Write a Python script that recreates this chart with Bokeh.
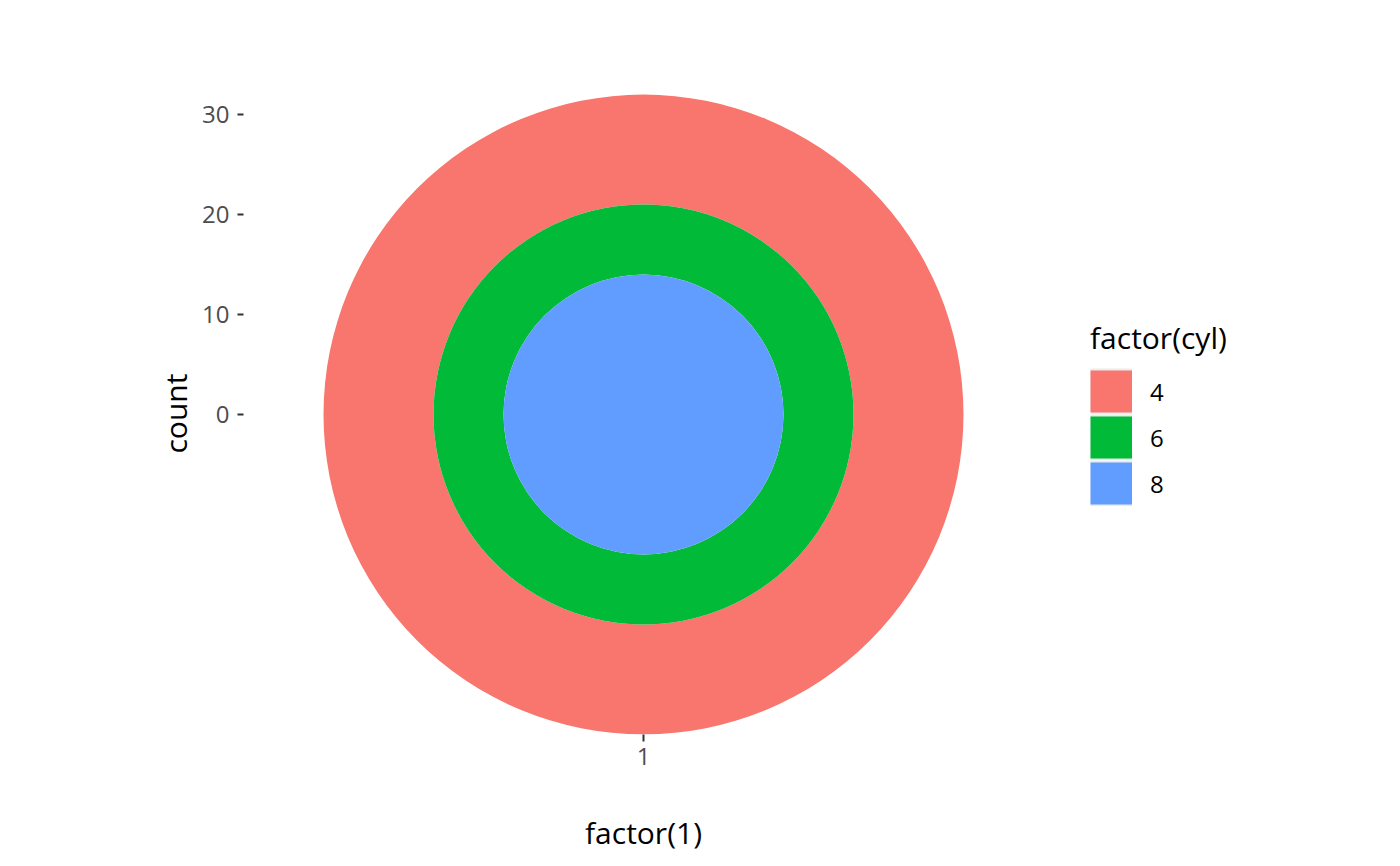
from bokeh.plotting import figure
from bokeh.models import ColumnDataSource, Range1d, FixedTicker, Legend, LegendItem, Title
from bokeh.embed import file_html
from bokeh.resources import INLINE

# data: mtcars counts by cylinder
cyl = ["4", "6", "8"]
counts = [11, 7, 14]
colors = ["#F8766D", "#00BA38", "#619CFF"]
y_ticks = [0, 10, 20, 30]
x_tick_labels = {0: "1"}

# stack (ggplot stacks last level at bottom -> innermost)
inner, outer = {}, {}
acc = 0
for c, n in reversed(list(zip(cyl, counts))):
    inner[c] = acc
    acc += n
    outer[c] = acc

FONT = "Open Sans"
p = figure(frame_width=800, frame_height=720, output_backend="svg", toolbar_location=None,
           x_range=Range1d(-40, 40), y_range=Range1d(-32, 40),
           min_border_left=243, min_border_right=0, min_border_top=14, min_border_bottom=120)
p.outline_line_color = None
p.grid.visible = False
p.background_fill_color = "white"

# legend key proxies (zero-length, drawn first and hidden under the rings):
# grey key background + coloured key
key_items = []
for c, col in zip(cyl, colors):
    bg = p.line(x="x", y="y", source=ColumnDataSource(dict(x=[0, 0], y=[0, 0])),
                line_color="#EBEBEB", line_width=46, line_cap="butt")
    fg = p.line(x="x", y="y", source=ColumnDataSource(dict(x=[0, 0], y=[0, 0])),
                line_color=col, line_width=42, line_cap="butt")
    key_items.append(LegendItem(label=c, renderers=[bg, fg]))

for c, col in zip(cyl, colors):
    src = ColumnDataSource(dict(x=[0], y=[0], r0=[inner[c]], r1=[outer[c]]))
    p.annulus(x="x", y="y", inner_radius="r0", outer_radius="r1", source=src,
              fill_color=col, line_color=None)

for ax in (p.xaxis[0], p.yaxis[0]):
    ax.axis_line_color = None
    ax.major_tick_line_color = "#333333"
    ax.major_tick_line_width = 2
    ax.minor_tick_line_color = None
    ax.major_tick_in = 0
    ax.major_label_text_font = FONT
    ax.major_label_text_font_size = "24px"
    ax.major_label_text_color = "#4D4D4D"
    ax.axis_label_text_font = FONT
    ax.axis_label_text_font_size = "30px"
    ax.axis_label_text_font_style = "normal"
    ax.axis_label_text_color = "black"

p.yaxis.ticker = FixedTicker(ticks=y_ticks)
p.yaxis.major_tick_out = 6
p.yaxis.major_label_standoff = 8

# y title centred on the whole panel (as ggplot does), not only on the frame
ytitle = Title(text="count", align="left", offset=281, standoff=8,
               text_font=FONT, text_font_size="30px", text_font_style="normal",
               text_color="black")
p.add_layout(ytitle, "left")

p.xaxis.ticker = FixedTicker(ticks=list(x_tick_labels.keys()))
p.xaxis.major_label_overrides = x_tick_labels
p.xaxis.major_tick_out = 7
p.xaxis.major_label_standoff = 6
p.xaxis.axis_label = "factor(1)"
p.xaxis.axis_label_standoff = 44

legend = Legend(items=key_items,
                title="factor(cyl)", location=(47, 228), orientation="vertical",
                glyph_width=42, glyph_height=46, spacing=0, padding=0, margin=0,
                label_text_font=FONT, label_text_font_size="24px", label_standoff=18,
                label_text_color="black",
                title_text_font=FONT, title_text_font_size="30px", title_text_font_style="normal",
                title_text_color="black",
                title_standoff=10, background_fill_alpha=0, border_line_color=None)
p.add_layout(legend, "right")

open("out.html", "w").write(file_html(p, INLINE))
